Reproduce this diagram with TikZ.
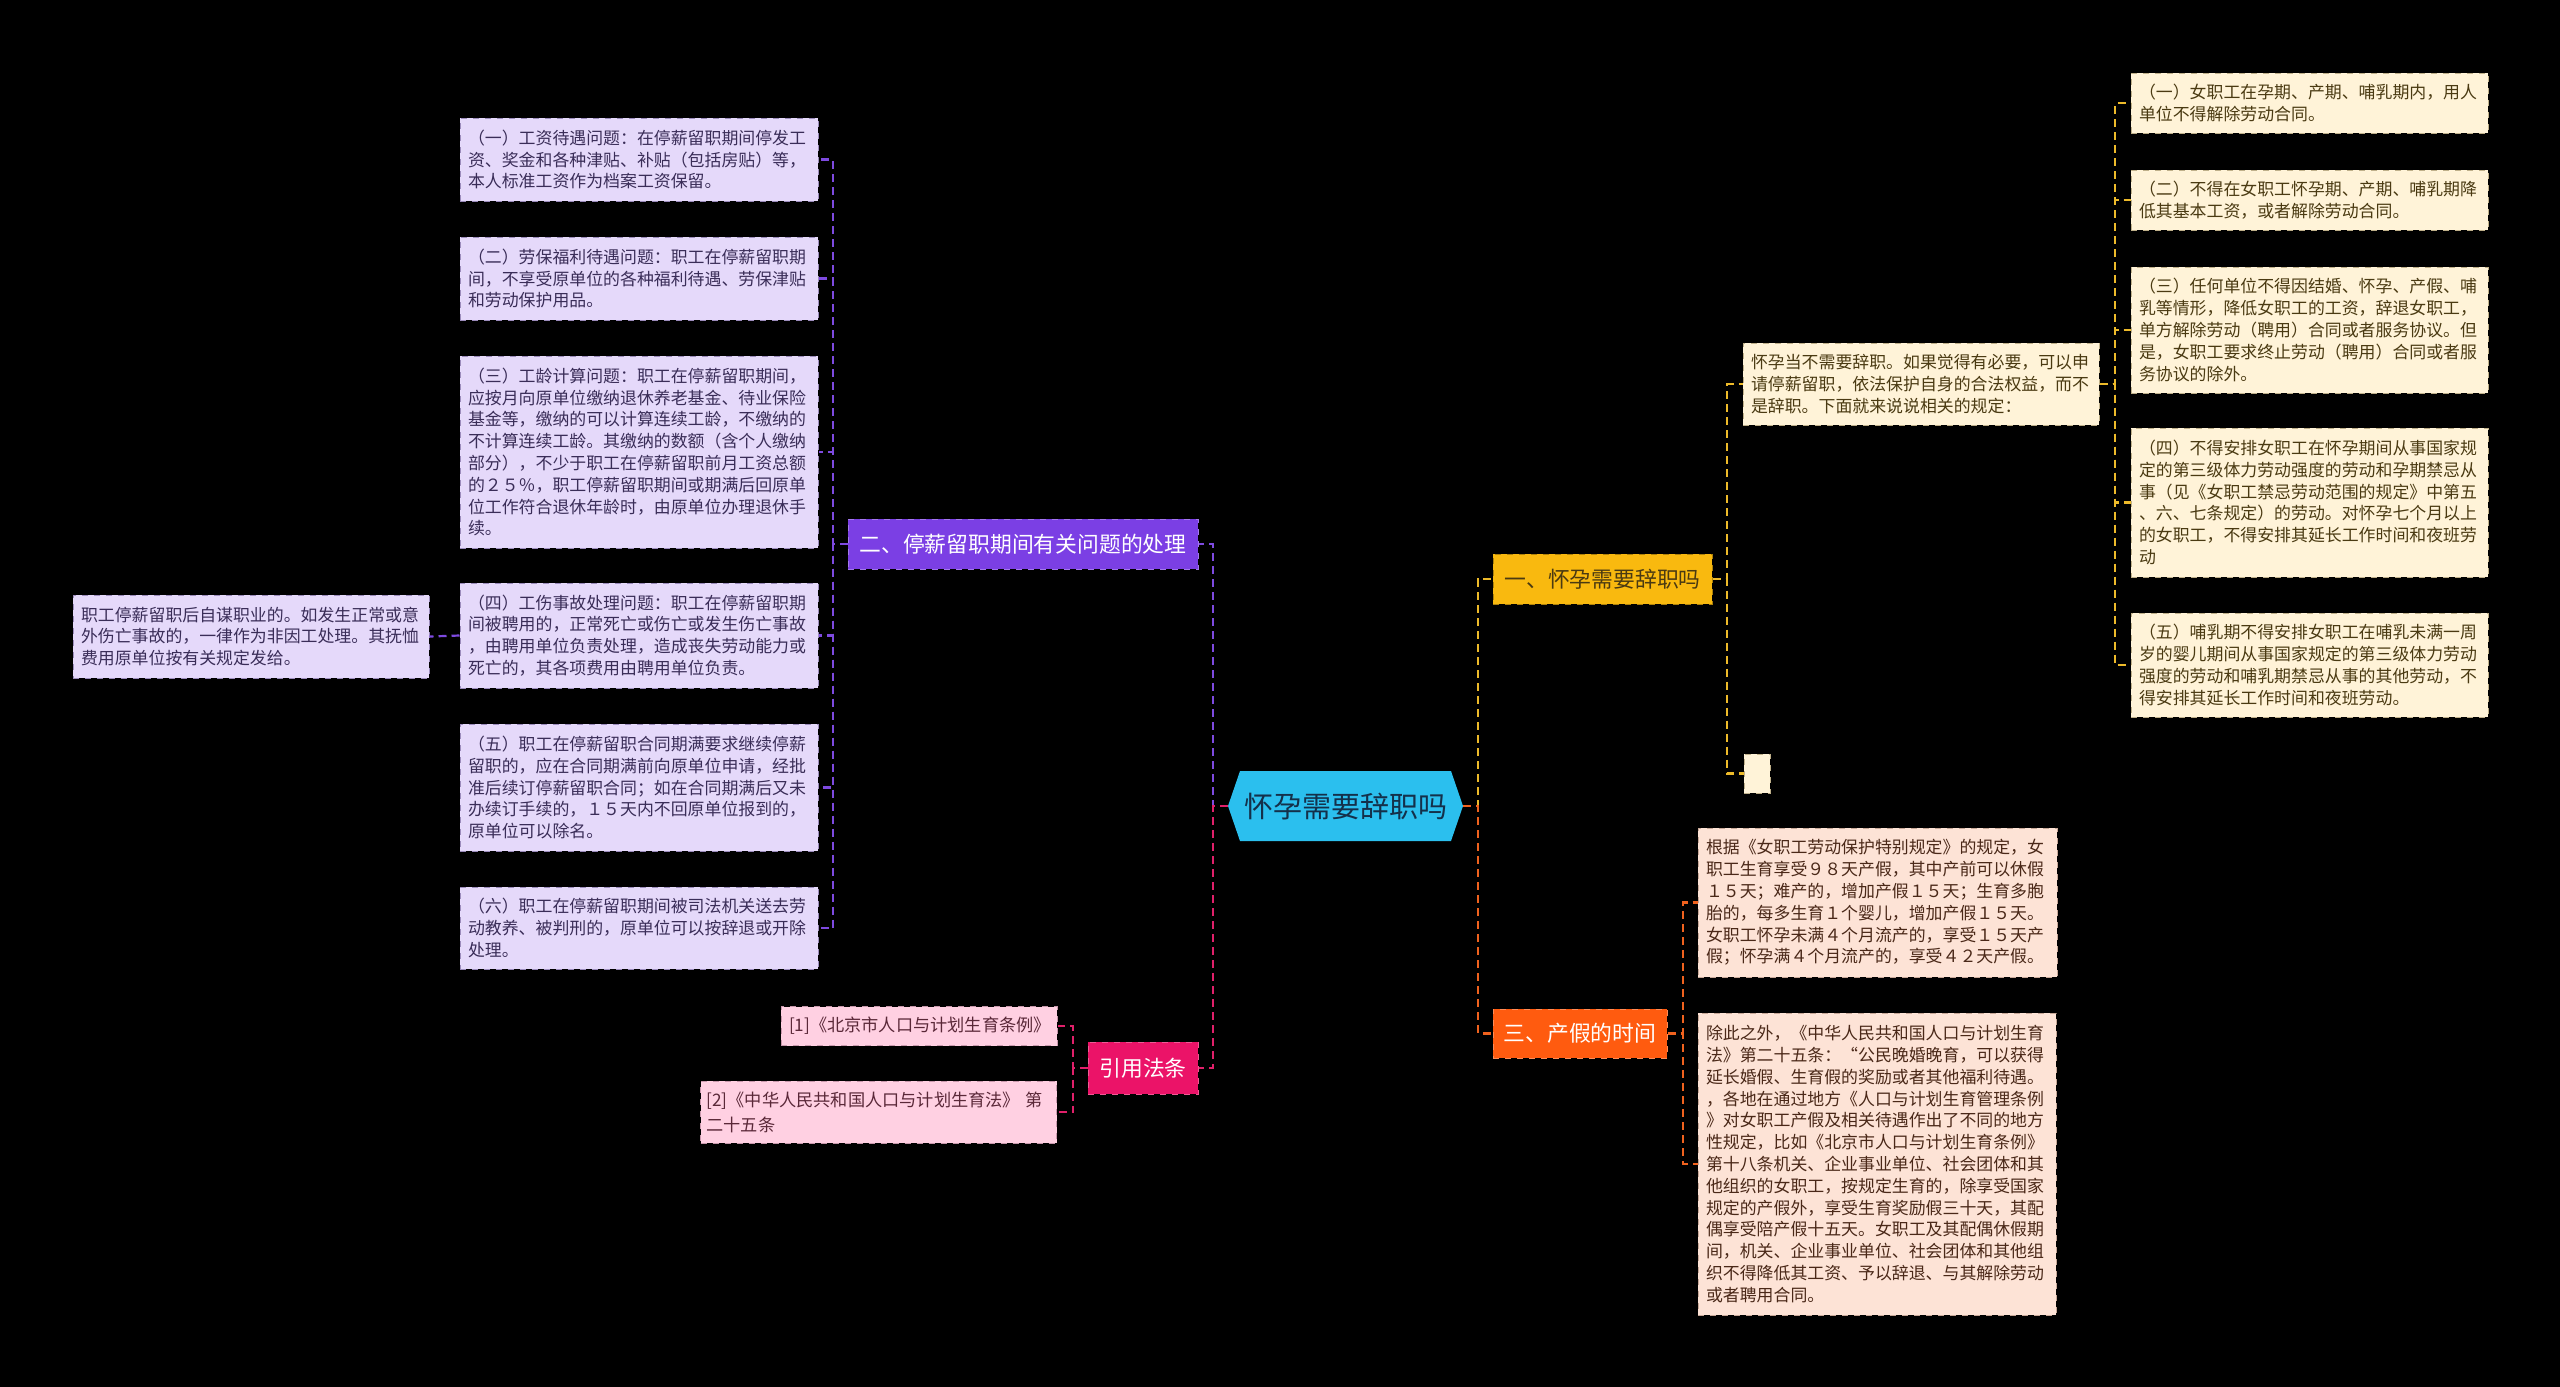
\documentclass[tikz,border=0pt]{standalone}
\usepackage{fontspec}
\setmainfont{Noto Sans CJK SC}
\definecolor{bgc}{HTML}{000000}
\definecolor{cyanc}{HTML}{2BBFEE}
\definecolor{ctext}{HTML}{14304A}
\definecolor{purc}{HTML}{7B3FE4}
\definecolor{purline}{HTML}{7E4AE0}
\definecolor{purkid}{HTML}{E5D9FA}
\definecolor{purkidb}{HTML}{9C8CBC}
\definecolor{purtext}{HTML}{3A2D58}
\definecolor{pinkc}{HTML}{EB1368}
\definecolor{pinkline}{HTML}{E0206A}
\definecolor{pinkkid}{HTML}{FFD0E2}
\definecolor{pinkkidb}{HTML}{C898AC}
\definecolor{pinktext}{HTML}{5A2838}
\definecolor{yelc}{HTML}{F9B90F}
\definecolor{yelline}{HTML}{EDBA2A}
\definecolor{yelkid}{HTML}{FFF3D8}
\definecolor{yelkidb}{HTML}{BFB08A}
\definecolor{yeltext}{HTML}{4A3A12}
\definecolor{orc}{HTML}{FF5B0F}
\definecolor{orline}{HTML}{F0621E}
\definecolor{orkid}{HTML}{FDE3D6}
\definecolor{orkidb}{HTML}{C8A898}
\definecolor{ortext}{HTML}{4A2818}
\newcommand\kidfont{\fontsize{8.45pt}{10.9pt}\selectfont}
\newcommand\pinkfont{\fontsize{8.6pt}{12.4pt}\selectfont}
\newcommand\branchfont{\fontsize{10.9pt}{13pt}\selectfont}
\begin{document}
\begin{tikzpicture}[x=0.5pt,y=-0.5pt,
  conn/.style={line width=1.1pt, dash pattern=on 4pt off 2.5pt},
  kid/.style={dashed, line width=0.5pt, inner xsep=4pt, inner ysep=0pt, align=left, font=\kidfont},
  pkid/.style={kid, draw=purkidb, fill=purkid, text=purtext},
  rkid/.style={kid, draw=pinkkidb, fill=pinkkid, text=pinktext, font=\pinkfont},
  ykid/.style={kid, draw=yelkidb, fill=yelkid, text=yeltext},
  okid/.style={kid, draw=orkidb, fill=orkid, text=ortext},
  branch/.style={dashed, line width=0.5pt, inner sep=0pt, font=\branchfont, minimum height=25pt}
]
\fill[bgc] (0,0) rectangle (2560,1387);
\useasboundingbox (0,0) rectangle (2560,1387);

% centre
\fill[cyanc] (1228,806) -- (1240,771) -- (1451,771) -- (1463,806) -- (1451,841) -- (1240,841) -- cycle;
\node[minimum width=117.5pt, minimum height=35pt, inner sep=0pt, text=ctext, font=\fontsize{14.5pt}{17pt}\selectfont] (C) at (1345.5,806) {怀孕需要辞职吗};

% branches
\node[branch, draw=purc!70!white, fill=purc, text=white, minimum width=175pt] (P) at (1023,544) {二、停薪留职期间有关问题的处理};
\node[branch, draw=pinkc!70!white, fill=pinkc, text=white, minimum width=55pt, minimum height=26pt] (R) at (1143,1068) {引用法条};
\node[branch, draw=yelc!70!black, fill=yelc, text=yeltext, minimum width=109.5pt] (Y) at (1602.5,579) {一、怀孕需要辞职吗};
\node[branch, draw=orc!70!white, fill=orc, text=white, minimum width=87pt, minimum height=24.5pt] (O) at (1580,1033.5) {三、产假的时间};

% purple kids
\node[pkid, text width=171pt, minimum height=41.5pt] (p1) at (639,159.5) {（一）工资待遇问题：在停薪留职期间停发工\\资、奖金和各种津贴、补贴（包括房贴）等，\\本人标准工资作为档案工资保留。};
\node[pkid, text width=171pt, minimum height=41.5pt] (p2) at (639,278.5) {（二）劳保福利待遇问题：职工在停薪留职期\\间，不享受原单位的各种福利待遇、劳保津贴\\和劳动保护用品。};
\node[pkid, text width=171pt, minimum height=96pt] (p3) at (639,452) {（三）工龄计算问题：职工在停薪留职期间，\\应按月向原单位缴纳退休养老基金、待业保险\\基金等，缴纳的可以计算连续工龄，不缴纳的\\不计算连续工龄。其缴纳的数额（含个人缴纳\\部分），不少于职工在停薪留职前月工资总额\\的２５％，职工停薪留职期间或期满后回原单\\位工作符合退休年龄时，由原单位办理退休手\\续。};
\node[pkid, text width=171pt, minimum height=52.5pt] (p4) at (639,635.5) {（四）工伤事故处理问题：职工在停薪留职期\\间被聘用的，正常死亡或伤亡或发生伤亡事故\\，由聘用单位负责处理，造成丧失劳动能力或\\死亡的，其各项费用由聘用单位负责。};
\node[pkid, text width=171pt, minimum height=63.5pt] (p5) at (639,787.5) {（五）职工在停薪留职合同期满要求继续停薪\\留职的，应在合同期满前向原单位申请，经批\\准后续订停薪留职合同；如在合同期满后又未\\办续订手续的，１５天内不回原单位报到的，\\原单位可以除名。};
\node[pkid, text width=171pt, minimum height=41pt] (p6) at (639,928) {（六）职工在停薪留职期间被司法机关送去劳\\动教养、被判刑的，原单位可以按辞退或开除\\处理。};
\node[pkid, text width=170pt, minimum height=41.5pt] (pf) at (251,636.5) {职工停薪留职后自谋职业的。如发生正常或意\\外伤亡事故的，一律作为非因工处理。其抚恤\\费用原单位按有关规定发给。};

% pink kids
\node[rkid, text width=130pt, minimum height=19.5pt] (r1) at (919,1026) {[1]《北京市人口与计划生育条例》};
\node[rkid, text width=172pt, minimum height=31pt, inner xsep=3pt] (r2) at (878.5,1112) {[2]《中华人民共和国人口与计划生育法》~第\\二十五条};

% yellow kids
\node[ykid, text width=170pt, minimum height=41pt] (ya) at (1921,384) {怀孕当不需要辞职。如果觉得有必要，可以申\\请停薪留职，依法保护自身的合法权益，而不\\是辞职。下面就来说说相关的规定：};
\node[ykid, minimum width=13pt, minimum height=19.5pt, inner xsep=0pt] (yb) at (1757,773.5) {};
\node[ykid, text width=170.5pt, minimum height=30pt] (y1) at (2309.5,103) {（一）女职工在孕期、产期、哺乳期内，用人\\单位不得解除劳动合同。};
\node[ykid, text width=170.5pt, minimum height=30pt] (y2) at (2309.5,200) {（二）不得在女职工怀孕期、产期、哺乳期降\\低其基本工资，或者解除劳动合同。};
\node[ykid, text width=170.5pt, minimum height=63pt] (y3) at (2309.5,330) {（三）任何单位不得因结婚、怀孕、产假、哺\\乳等情形，降低女职工的工资，辞退女职工，\\单方解除劳动（聘用）合同或者服务协议。但\\是，女职工要求终止劳动（聘用）合同或者服\\务协议的除外。};
\node[ykid, text width=170.5pt, minimum height=74.5pt] (y4) at (2309.5,502.5) {（四）不得安排女职工在怀孕期间从事国家规\\定的第三级体力劳动强度的劳动和孕期禁忌从\\事（见《女职工禁忌劳动范围的规定》中第五\\、六、七条规定）的劳动。对怀孕七个月以上\\的女职工，不得安排其延长工作时间和夜班劳\\动};
\node[ykid, text width=170.5pt, minimum height=52pt] (y5) at (2309.5,665) {（五）哺乳期不得安排女职工在哺乳未满一周\\岁的婴儿期间从事国家规定的第三级体力劳动\\强度的劳动和哺乳期禁忌从事的其他劳动，不\\得安排其延长工作时间和夜班劳动。};

% orange kids
\node[okid, text width=171.5pt, minimum height=74.5pt] (o1) at (1877.5,902.5) {根据《女职工劳动保护特别规定》的规定，女\\职工生育享受９８天产假，其中产前可以休假\\１５天；难产的，增加产假１５天；生育多胞\\胎的，每多生育１个婴儿，增加产假１５天。\\女职工怀孕未满４个月流产的，享受１５天产\\假；怀孕满４个月流产的，享受４２天产假。};
\node[okid, text width=171pt, minimum height=151pt] (o2) at (1877,1164) {除此之外，《中华人民共和国人口与计划生育\\法》第二十五条：“公民晚婚晚育，可以获得\\延长婚假、生育假的奖励或者其他福利待遇。\\，各地在通过地方《人口与计划生育管理条例\\》对女职工产假及相关待遇作出了不同的地方\\性规定，比如《北京市人口与计划生育条例》\\第十八条机关、企业事业单位、社会团体和其\\他组织的女职工，按规定生育的，除享受国家\\规定的产假外，享受生育奖励假三十天，其配\\偶享受陪产假十五天。女职工及其配偶休假期\\间，机关、企业事业单位、社会团体和其他组\\织不得降低其工资、予以辞退、与其解除劳动\\或者聘用合同。};

% spine coordinates
\coordinate (sL) at (1213,806);
\coordinate (sRt) at (1478,806);
\coordinate (sP) at (833,544);
\coordinate (sR) at (1073,1068);
\coordinate (sY) at (1727,579);
\coordinate (sA) at (2115,384);
\coordinate (sO) at (1683,1033.5);

% centre connectors
\draw[conn, purline] (C.west) -- (sL) |- (P.east);
\draw[conn, pinkline] (C.west) -- (sL) |- (R.east);
\draw[conn, yelline] (C.east) -- (sRt) |- (Y.west);
\draw[conn, orline] (C.east) -- (sRt) |- (O.west);

% purple
\foreach \k in {p1,p2,p3,p4,p5,p6}{\draw[conn, purline] (P.west) -- (sP) |- (\k.east);}
\draw[conn, purline] (p4.west) -- (pf.east);
% pink
\foreach \k in {r1,r2}{\draw[conn, pinkline] (R.west) -- (sR) |- (\k.east);}
% yellow
\foreach \k in {ya,yb}{\draw[conn, yelline] (Y.east) -- (sY) |- (\k.west);}
\foreach \k in {y1,y2,y3,y4,y5}{\draw[conn, yelline] (ya.east) -- (sA) |- (\k.west);}
% orange
\foreach \k in {o1,o2}{\draw[conn, orline] (O.east) -- (sO) |- (\k.west);}
\end{tikzpicture}
\end{document}
